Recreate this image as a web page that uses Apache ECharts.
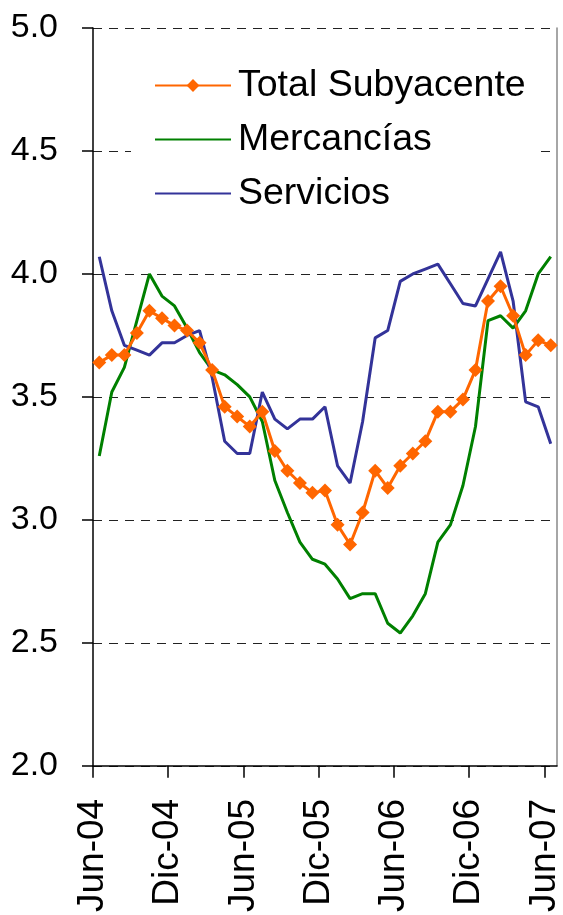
<!DOCTYPE html>
<html>
<head>
<meta charset="utf-8">
<script src="https://cdn.jsdelivr.net/npm/echarts@6/dist/echarts.min.js"></script>
<style>
  html, body { margin: 0; padding: 0; background: #fff; }
  #chart { width: 563px; height: 915px; }
</style>
</head>
<body>
<div id="chart"></div>
<script>
// monthly series, Jun-04 .. Jun-07
const tickLabels = ['Jun-04', 'Dic-04', 'Jun-05', 'Dic-05', 'Jun-06', 'Dic-06', 'Jun-07'];
const totalSubyacente = [3.64, 3.67, 3.67, 3.76, 3.85, 3.82, 3.79, 3.77, 3.72, 3.61, 3.46, 3.42, 3.38, 3.44, 3.28, 3.20, 3.15, 3.11, 3.12, 2.98, 2.90, 3.03, 3.20, 3.13, 3.22, 3.27, 3.32, 3.44, 3.44, 3.49, 3.61, 3.89, 3.95, 3.83, 3.67, 3.73, 3.71];
const mercancias = [3.26, 3.52, 3.62, 3.81, 4.00, 3.91, 3.87, 3.78, 3.68, 3.61, 3.59, 3.55, 3.50, 3.40, 3.16, 3.03, 2.91, 2.84, 2.82, 2.76, 2.68, 2.70, 2.70, 2.58, 2.54, 2.61, 2.70, 2.91, 2.98, 3.14, 3.38, 3.81, 3.83, 3.78, 3.85, 4.00, 4.07];
const servicios = [4.07, 3.85, 3.71, 3.69, 3.67, 3.72, 3.72, 3.75, 3.77, 3.58, 3.32, 3.27, 3.27, 3.52, 3.41, 3.37, 3.41, 3.41, 3.46, 3.22, 3.15, 3.40, 3.74, 3.77, 3.97, 4.00, 4.02, 4.04, 3.96, 3.88, 3.87, 3.98, 4.09, 3.89, 3.48, 3.46, 3.31];

const FONT = "'Liberation Sans', Arial, sans-serif";

// x is months since Jun-04, points sit in the middle of each month
const toPoints = arr => arr.map((v, i) => [i + 0.5, v]);
const tickValues = tickLabels.map((_, i) => i * 6);

const chart = echarts.init(document.getElementById('chart'));
chart.setOption({
  animation: false,
  backgroundColor: '#fff',
  textStyle: { fontFamily: FONT },
  grid: { left: 93, right: 6, top: 28, bottom: 148 },
  legend: {
    orient: 'vertical',
    left: 131,
    top: 55,
    selectedMode: false,
    backgroundColor: '#fff',
    padding: [10, 14, 10, 23],
    itemWidth: 76,
    itemHeight: 16,
    itemGap: 13,
    textStyle: { fontFamily: FONT, fontSize: 37.5, color: '#000', lineHeight: 41, padding: [0, 0, 0, 2] },
    data: [
      { name: 'Total Subyacente' },
      { name: 'Mercancías', itemStyle: { opacity: 0 } },
      { name: 'Servicios', itemStyle: { opacity: 0 } }
    ]
  },
  xAxis: {
    type: 'value',
    min: 0,
    max: 37,
    interval: 6,
    axisLine: { show: true, onZero: false, lineStyle: { color: '#000', width: 1.5 } },
    axisTick: { show: true, length: 12, customValues: tickValues, lineStyle: { color: '#000', width: 1.5 } },
    axisLabel: {
      customValues: tickValues,
      rotate: 90,
      margin: 33,
      fontFamily: FONT,
      fontSize: 37,
      color: '#000',
      formatter: v => tickLabels[Math.round(v / 6)] || ''
    },
    splitLine: { show: false }
  },
  yAxis: [{
    type: 'value',
    min: 2,
    max: 5,
    interval: 0.5,
    axisLine: { show: true, lineStyle: { color: '#000', width: 1.5 } },
    axisTick: { show: true, length: 11, lineStyle: { color: '#000', width: 1.5 } },
    axisLabel: { margin: 35, fontFamily: FONT, fontSize: 34, color: '#000', formatter: v => v.toFixed(1) },
    splitLine: { show: true, lineStyle: { color: '#222', width: 1, type: [9, 7] } }
  }, {
    type: 'value',
    position: 'right',
    min: 2,
    max: 5,
    axisLine: { show: true, lineStyle: { color: '#888', width: 1.5 } },
    axisTick: { show: false },
    axisLabel: { show: false },
    splitLine: { show: false }
  }],
  series: [
    {
      name: 'Total Subyacente',
      type: 'line',
      data: toPoints(totalSubyacente),
      symbol: 'diamond',
      symbolSize: 14,
      z: 5,
      itemStyle: { color: '#FF6600' },
      lineStyle: { color: '#FF6600', width: 3 }
    },
    {
      name: 'Mercancías',
      type: 'line',
      data: toPoints(mercancias),
      symbol: 'none',
      z: 3,
      itemStyle: { color: '#008000' },
      lineStyle: { color: '#008000', width: 3 }
    },
    {
      name: 'Servicios',
      type: 'line',
      data: toPoints(servicios),
      symbol: 'none',
      z: 4,
      itemStyle: { color: '#333399' },
      lineStyle: { color: '#333399', width: 3 }
    }
  ]
});
</script>
</body>
</html>
